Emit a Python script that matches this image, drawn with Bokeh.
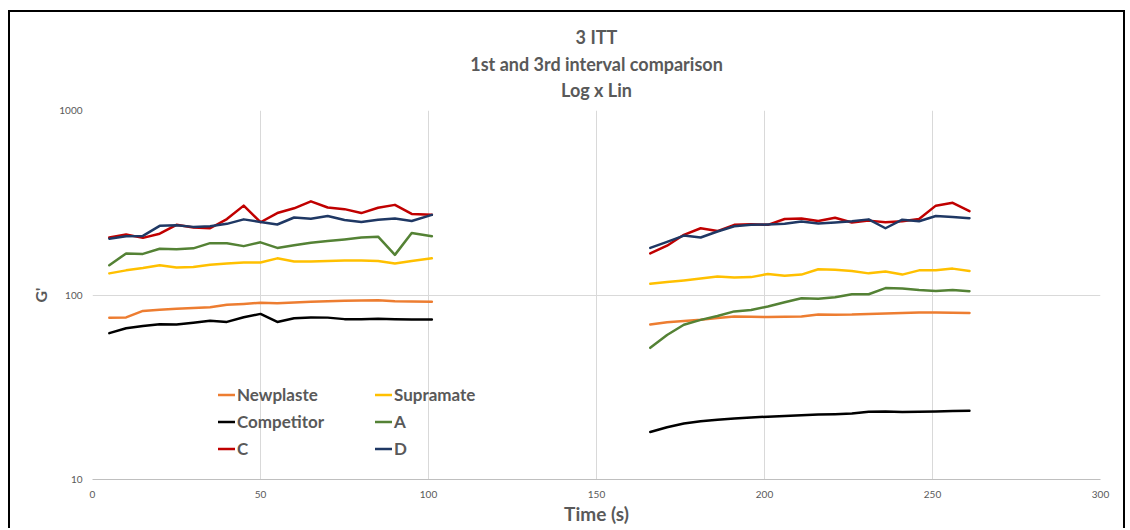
from bokeh.plotting import figure
from bokeh.models import Legend, LegendItem, FixedTicker, NumeralTickFormatter, Title
from bokeh.embed import file_html
from bokeh.resources import INLINE

# Sampling times (s) of the first and the third interval
t_first = [5, 10, 15, 20, 25, 30, 35, 40, 45, 50, 55, 60, 65, 70, 75, 80, 85, 90, 95, 101]
t_third = [166, 171, 176, 181, 186, 191, 196, 201, 206, 211, 216, 221, 226, 231, 236, 241, 246, 251, 256, 261]

# G' per material, first interval
newplaste_1 = [75.2, 75.6, 82.0, 83.3, 84.3, 85.0, 85.9, 88.6, 89.5, 90.7, 90.2, 91.0, 91.8, 92.5, 93.0, 93.3, 93.7, 92.6, 92.2, 92.0]
supramate_1 = [131, 136, 140, 145, 141, 142, 146, 148, 150, 150, 158, 152, 152, 153, 154, 154, 153, 148, 153, 158]
competitor_1 = [62.1, 66.0, 68.0, 69.5, 69.2, 70.7, 72.5, 71.5, 75.8, 79.0, 71.4, 74.8, 75.5, 75.4, 74.0, 73.8, 74.3, 74.0, 73.6, 73.6]
a_1 = [145, 168, 167, 178, 177, 179, 191, 191, 184, 193, 180, 186, 192, 196, 200, 205, 207, 165, 217, 208]
c_1 = [205, 213, 204, 215, 240, 232, 230, 258, 305, 248, 278, 295, 322, 298, 292, 278, 297, 308, 275, 272]
d_1 = [202, 208, 209, 237, 239, 234, 236, 243, 257, 249, 241, 263, 259, 268, 255, 249, 256, 260, 252, 272]

# G' per material, third interval
newplaste_3 = [69.2, 71.2, 72.3, 73.4, 75.0, 76.4, 76.2, 76.0, 76.3, 76.5, 78.4, 78.2, 78.4, 79.0, 79.4, 79.8, 80.4, 80.4, 80.2, 80.0]
supramate_3 = [115, 117.5, 120, 123, 126, 124.5, 125, 130, 127, 129, 138, 137, 135, 131, 134, 129, 136, 136, 139, 135]
competitor_3 = [18.1, 19.2, 20.1, 20.7, 21.1, 21.4, 21.7, 21.9, 22.1, 22.3, 22.5, 22.6, 22.8, 23.3, 23.4, 23.2, 23.3, 23.4, 23.5, 23.6]
a_3 = [51.7, 60.7, 69.0, 73.3, 77.0, 81.5, 83.0, 86.7, 91.4, 96.0, 95.5, 97.3, 101, 101, 109, 108.5, 106.3, 105, 106.5, 104.8]
c_3 = [168, 185, 212, 230, 222, 240, 242, 240, 258, 260, 252, 262, 247, 253, 248, 251, 258, 305, 316, 285]
d_3 = [180, 194, 210, 205, 221, 236, 240, 241, 243, 250, 244, 247, 251, 257, 230, 256, 251, 268, 265, 261]

series_names = ["Newplaste", "Supramate", "Competitor", "A", "C", "D"]
series_colors = ["#ED7D31", "#FFC000", "#000000", "#548235", "#C00000", "#1F3864"]
first_values = [newplaste_1, supramate_1, competitor_1, a_1, c_1, d_1]
third_values = [newplaste_3, supramate_3, competitor_3, a_3, c_3, d_3]

x_ticks = [0, 50, 100, 150, 200, 250, 300]
y_ticks = [10, 100, 1000]
y_tick_labels = ["10", "100", "1000"]

title_lines = ["3 ITT", "1st and 3rd interval comparison", "Log x Lin"]

GREY_TEXT = "#595959"
FONT = "Lato"

p = figure(width=1113, height=516, x_range=(0, 300), y_range=(10, 1000),
           y_axis_type="log", output_backend="svg", toolbar_location=None,
           min_border_left=82, min_border_right=27, min_border_top=98,
           min_border_bottom=51, background_fill_color="white",
           border_fill_color="white", outline_line_color=None)

# the chart sits inside a thin black frame (its lower edge falls below the page)
p.styles = {"margin-left": "8px", "margin-top": "10px",
            "border-left": "2px solid black", "border-top": "2px solid black",
            "border-right": "2px solid black",
            "box-sizing": "content-box"}

# grid
p.xgrid.ticker = FixedTicker(ticks=x_ticks)
p.ygrid.ticker = FixedTicker(ticks=y_ticks)
p.xgrid.grid_line_color = "#d9d9d9"
p.ygrid.grid_line_color = "#d9d9d9"
p.ygrid.minor_grid_line_color = None

# axes
xax = p.xaxis[0]
yax = p.yaxis[0]
xax.ticker = FixedTicker(ticks=x_ticks)
yax.ticker = FixedTicker(ticks=y_ticks)
yax.formatter = NumeralTickFormatter(format="0")
yax.major_label_overrides = {v: s for v, s in zip(y_ticks, y_tick_labels)}
for ax in (xax, yax):
    ax.major_tick_out = 0
    ax.major_tick_in = 0
    ax.minor_tick_out = 0
    ax.minor_tick_in = 0
    ax.major_label_text_font = FONT
    ax.major_label_text_font_size = "10px"
    ax.major_label_text_color = GREY_TEXT
    ax.axis_label_text_font = FONT
    ax.axis_label_text_font_style = "bold"
    ax.axis_label_text_color = GREY_TEXT
xax.axis_line_color = "#bfbfbf"
yax.axis_line_color = None
xax.major_label_standoff = 11
yax.major_label_standoff = 10
xax.axis_label = "Time (s)"
xax.axis_label_text_font_size = "19px"
xax.axis_label_standoff = 1
yax.axis_label = "G'"
yax.axis_label_text_font_size = "16px"
yax.axis_label_standoff = 6

# one line per material, broken between the two intervals
renderers = {}
for name, color, v1, v3 in zip(series_names, series_colors, first_values, third_values):
    xs = t_first + [float("nan")] + t_third
    ys = v1 + [float("nan")] + v3
    renderers[name] = p.line(xs, ys, line_color=color, line_width=2.5,
                             line_join="round", line_cap="round")

# two-column legend inside the plot area
def make_legend(names, x):
    leg = Legend(items=[LegendItem(label=n, renderers=[renderers[n]]) for n in names],
                 location=(x, 17), orientation="vertical",
                 background_fill_alpha=0, border_line_color=None,
                 label_text_font=FONT, label_text_font_style="bold",
                 label_text_font_size="17px", label_text_color=GREY_TEXT,
                 glyph_width=17, glyph_height=27, label_height=27,
                 spacing=0, padding=0, margin=0, label_standoff=2)
    p.add_layout(leg)

make_legend(["Newplaste", "Competitor", "C"], 126)
make_legend(["Supramate", "A", "D"], 283)

# three-line title: the extra titles stack upward from the plot area,
# the figure's own title sits outermost
def style_title(t, standoff):
    t.align = "center"
    t.text_font = FONT
    t.text_font_style = "bold"
    t.text_font_size = "18px"
    t.text_color = GREY_TEXT
    t.standoff = standoff

p.title.text = title_lines[0]
style_title(p.title, 21.4)
for line, standoff in ((title_lines[2], 19.4), (title_lines[1], -14.6)):
    t = Title(text=line)
    style_title(t, standoff)
    p.add_layout(t, "above")

open("out.html", "w").write(file_html(p, INLINE))
